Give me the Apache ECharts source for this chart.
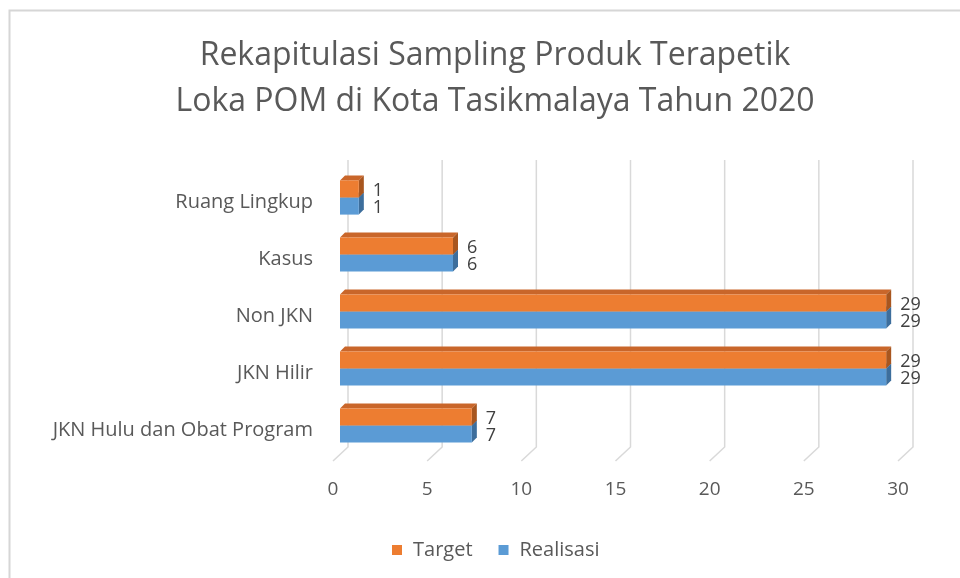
<!DOCTYPE html>
<html>
<head>
<meta charset="utf-8">
<script src="https://cdn.jsdelivr.net/npm/echarts@6/dist/echarts.min.js"></script>
<style>
  html, body { margin: 0; padding: 0; background: #fff; }
  #chart { width: 960px; height: 578px; }
</style>
</head>
<body>
<div id="chart"></div>
<script>
// bottom to top, as the category axis runs
const categories = ['JKN Hulu dan Obat Program', 'JKN Hilir', 'Non JKN', 'Kasus', 'Ruang Lingkup'];
const target = [7, 29, 29, 6, 1];
const realisasi = [7, 29, 29, 6, 1];
const ticks = [0, 5, 10, 15, 20, 25, 30];

const FONT = '"Open Sans", "Noto Sans", sans-serif';
const DEPTH = 5;

const colors = {
    Target: { front: '#ED7D31', top: '#C9662A', side: '#A8561F' },
    Realisasi: { front: '#5B9BD5', top: '#4A84BA', side: '#3D6E9C' },
};

function barItem(name) {
    const c = colors[name];
    return function (params, api) {
        const v = api.value(0);
        const cat = api.value(1);
        const base = api.coord([0, cat]);
        const end = api.coord([v, cat]);
        const band = api.size([0, 1])[1];
        const h = band * 0.3;
        const y0 = base[1] + (name === 'Target' ? -h : 0);
        const x0 = base[0];
        const x1 = end[0];
        const d = DEPTH;
        return {
            type: 'group',
            children: [
                {
                    type: 'polygon',
                    shape: { points: [[x0, y0], [x0 + d, y0 - d], [x1 + d, y0 - d], [x1, y0]] },
                    style: { fill: c.top },
                },
                {
                    type: 'polygon',
                    shape: { points: [[x1, y0], [x1 + d, y0 - d], [x1 + d, y0 + h - d], [x1, y0 + h]] },
                    style: { fill: c.side },
                },
                {
                    type: 'rect',
                    shape: { x: x0, y: y0, width: x1 - x0, height: h },
                    style: { fill: c.front },
                },
                {
                    type: 'text',
                    style: {
                        text: String(v),
                        x: x1 + d + 9,
                        y: y0 + h / 2 + 2,
                        verticalAlign: 'middle',
                        align: 'left',
                        fill: '#404040',
                        font: '18px ' + FONT,
                    },
                },
            ],
        };
    };
}

function gridItem(params, api) {
    const cs = params.coordSys;
    const x = api.coord([api.value(0), 0])[0];
    const bottom = cs.y + cs.height;
    return {
        type: 'polyline',
        shape: { points: [[x + 8, cs.y - 9], [x + 8, bottom - 7], [x - 7, bottom + 7]] },
        style: { stroke: '#d9d9d9', lineWidth: 1.5, fill: null },
        silent: true,
    };
}

const chart = echarts.init(document.getElementById('chart'));

chart.setOption({
    animation: false,
    backgroundColor: '#fff',
    title: {
        text: 'Rekapitulasi Sampling Produk Terapetik\nLoka POM di Kota Tasikmalaya Tahun 2020',
        left: 490,
        top: 28,
        textAlign: 'center',
        textStyle: {
            fontFamily: FONT,
            fontSize: 32,
            fontWeight: 'normal',
            color: '#595959',
            lineHeight: 46,
        },
    },
    legend: {
        data: ['Target', 'Realisasi'],
        left: 387,
        top: 535,
        icon: 'rect',
        itemWidth: 10,
        itemHeight: 10,
        itemGap: 26,
        textStyle: { fontFamily: FONT, fontSize: 20, color: '#595959', padding: [0, 0, 0, 6] },
    },
    grid: { left: 340, right: 55, top: 169, bottom: 124 },
    xAxis: {
        type: 'value',
        min: 0,
        max: 30,
        interval: 5,
        axisLine: { show: false },
        axisTick: { show: false },
        splitLine: { show: false },
        axisLabel: {
            margin: 26,
            padding: [0, 14, 0, 0],
            fontFamily: FONT,
            fontSize: 19,
            color: '#595959',
        },
    },
    yAxis: {
        type: 'category',
        data: categories,
        axisLine: { show: false },
        axisTick: { show: false },
        axisLabel: {
            margin: 27,
            formatter: v => '{c|' + v + '}',
            rich: {
                c: {
                    fontFamily: FONT,
                    fontSize: 20,
                    color: '#595959',
                    padding: [10, 0, 0, 0],
                },
            },
        },
    },
    graphic: [{
        type: 'rect',
        shape: { x: 9.5, y: 10.5, width: 1200, height: 800 },
        style: { fill: null, stroke: '#d6d6d6', lineWidth: 2 },
        silent: true,
        z: -10,
    }],
    series: [
        {
            name: 'grid',
            type: 'custom',
            renderItem: gridItem,
            data: ticks.map(t => [t, 0]),
            z: 1,
        },
        {
            name: 'Realisasi',
            type: 'custom',
            renderItem: barItem('Realisasi'),
            itemStyle: { color: colors.Realisasi.front },
            data: realisasi.map((v, i) => [v, i]),
            z: 2,
        },
        {
            name: 'Target',
            type: 'custom',
            renderItem: barItem('Target'),
            itemStyle: { color: colors.Target.front },
            data: target.map((v, i) => [v, i]),
            z: 3,
        },
    ],
});
</script>
</body>
</html>
